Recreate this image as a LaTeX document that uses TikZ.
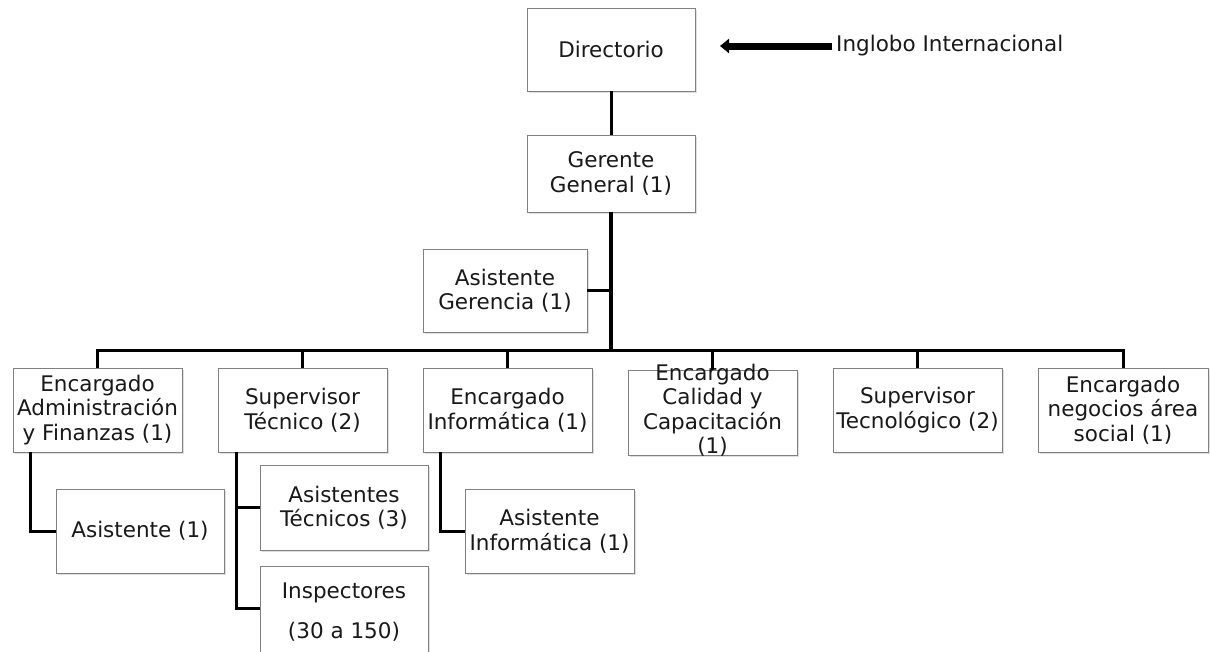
\documentclass[tikz,border=0pt]{standalone}
\usepackage{fontspec}
\setmainfont{DejaVu Sans}
\usetikzlibrary{arrows.meta,shadows}
\begin{document}
\begin{tikzpicture}[x=1pt,y=-1pt,
  box/.style={draw=black!50, line width=0.8pt, fill=white, minimum width=168pt, minimum height=84pt,
    align=center, inner sep=2pt, text=black!90,
    drop shadow={opacity=0.25, shadow xshift=1.5pt, shadow yshift=-1.5pt}},
  lbl/.style={align=center, inner sep=0pt, text=black!90},
  conn/.style={line width=3pt, black},
  every node/.style={font=\fontsize{21.5}{24.5}\selectfont}]
\clip (0,0) rectangle (1210,651);
\fill[white] (0,0) rectangle (1210,651);
% top
\node[box, minimum height=83pt] (dir) at (611,49.5) {Directorio};
\node[box, minimum height=77pt] (ger) at (611,173.5) {Gerente\\General (1)};
\node[box, minimum width=164pt, minimum height=83pt] (asg) at (505,290.5) {Asistente\\Gerencia (1)};
\node[lbl, anchor=west] (ing) at (836,46) {Inglobo Internacional};
\coordinate (tip) at (720,46);
% level 2
\node[box, minimum width=169pt] (l1) at (97.5,410) {Encargado\\Administración\\y Finanzas (1)};
\node[box, minimum width=169pt] (l2) at (302.5,410) {Supervisor\\Técnico (2)};
\node[box, minimum width=169pt] (l3) at (507.5,410) {Encargado\\Informática (1)};
\node[box, minimum width=169pt, minimum height=85pt] (l4) at (712.5,412.5) {};
\node[lbl] (l4t) at (712.5,410) {Encargado\\Calidad y\\Capacitación\\(1)};
\node[box, minimum width=169pt] (l5) at (917.5,410) {Supervisor\\Tecnológico (2)};
\node[box, minimum width=170pt] (l6) at (1123,410) {Encargado\\negocios área\\social (1)};
% level 3
\node[box] (asi) at (140,531) {Asistente (1)};
\node[box, minimum height=85pt] (at) at (344,507.5) {Asistentes\\Técnicos (3)};
\node[box, minimum height=92pt] (insp) at (344,612) {Inspectores\\[15pt](30 a 150)};
\node[box, minimum width=169pt] (ai) at (549.5,531) {Asistente\\Informática (1)};
% connectors
\coordinate (busC) at (611,350);
\draw[line width=7pt, -{Triangle[length=9pt,width=14pt]}] ([xshift=-4pt]ing.west) -- (tip);
\draw[conn] (dir.south) -- (ger.north);
\draw[conn, line width=3.6pt] (ger.south) -- (busC);
\draw[conn] (asg.east) -- (asg.east -| busC);
\draw[conn, line cap=rect] (l1.north |- busC) -- (l6.north |- busC);
\foreach \n in {l1,l2,l3,l5,l6} {\draw[conn] (\n.north |- busC) -- (\n.north);}
\draw[conn] (l4.north |- busC) -- (l4.north);
\draw[conn] ([xshift=-67.5pt]l1.south) |- (asi.west);
\draw[conn] ([xshift=-66.5pt]l2.south) |- (at.west);
\draw[conn] ([xshift=-66.5pt]l2.south) |- ([yshift=4pt]insp.west);
\draw[conn] ([xshift=-67.5pt]l3.south) |- (ai.west);
\end{tikzpicture}
\end{document}
